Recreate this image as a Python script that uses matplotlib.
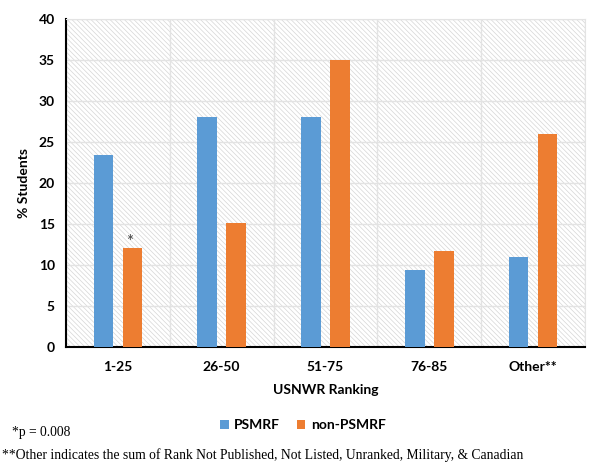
import numpy as np
import matplotlib
matplotlib.use("Agg")
import matplotlib.pyplot as plt
from matplotlib.patches import Rectangle

categories = ["1-25", "26-50", "51-75", "76-85", "Other**"]
psmrf = [23.4, 28.1, 28.1, 9.4, 11.0]
non_psmrf = [12.1, 15.1, 35.0, 11.7, 26.0]

blue = "#5b9bd5"
orange = "#ed7d31"

plt.rcParams["font.family"] = ["Lato", "DejaVu Sans"]
plt.rcParams["hatch.linewidth"] = 0.5

fig = plt.figure(figsize=(6, 4.71), dpi=100)
ax = fig.add_axes([0.11, 0.263, 0.865, 0.697])

x = np.arange(len(categories))
w = 0.19
off = 0.14

# hatched background
bg = Rectangle((0, 0), 1, 1, transform=ax.transAxes, facecolor="white",
               edgecolor="#d6d6d6", hatch="\\" * 7, lw=0, zorder=0)
ax.add_patch(bg)

ax.bar(x - off, psmrf, w, color=blue, label="PSMRF", zorder=3)
ax.bar(x + off, non_psmrf, w, color=orange, label="non-PSMRF", zorder=3)
ax.text(x[0] + off - 0.03, non_psmrf[0] - 0.3, "*", ha="center", va="bottom",
        fontsize=12, color="#404040", zorder=4)

ax.set_xlim(-0.5, len(categories) - 0.5)
ax.set_ylim(0, 40)
ax.set_yticks(range(0, 41, 5))
ax.set_xticks(x)
ax.set_xticklabels(categories)
ax.set_xticks(np.arange(-0.5, len(categories), 1), minor=True)
ax.grid(True, which="minor", axis="x", color="#e3e3e3", lw=1, zorder=1)
ax.grid(True, which="major", axis="y", color="#e3e3e3", lw=1, zorder=1)
ax.tick_params(which="both", length=0)
ax.tick_params(axis="x", pad=10)
ax.tick_params(axis="y", pad=8)
for lab in ax.get_xticklabels() + ax.get_yticklabels():
    lab.set_fontweight("bold")
    lab.set_fontsize(10)

for s in ["top", "right"]:
    ax.spines[s].set_color("#e3e3e3")
ax.spines["left"].set_linewidth(1.5)
ax.spines["bottom"].set_linewidth(1.5)

ax.set_xlabel("USNWR Ranking", fontweight="bold", fontsize=10, labelpad=8)
ax.set_ylabel("% Students", fontweight="bold", fontsize=10, labelpad=6)

fig.legend(loc="center", bbox_to_anchor=(0.505, 0.097), ncol=2, frameon=False,
           handlelength=0.6, handleheight=0.6, columnspacing=1.2, handletextpad=0.4,
           prop={"weight": "bold", "size": 10})

serif = ["Liberation Serif", "DejaVu Serif"]
fig.text(0.02, 0.081, "*p = 0.008", family=serif, fontsize=9.8, va="center")
fig.text(0.003, 0.034, "**Other indicates the sum of Rank Not Published, Not Listed, Unranked, Military, & Canadian",
         family=serif, fontsize=9.8, va="center")

fig.savefig("out.png", dpi=100)
